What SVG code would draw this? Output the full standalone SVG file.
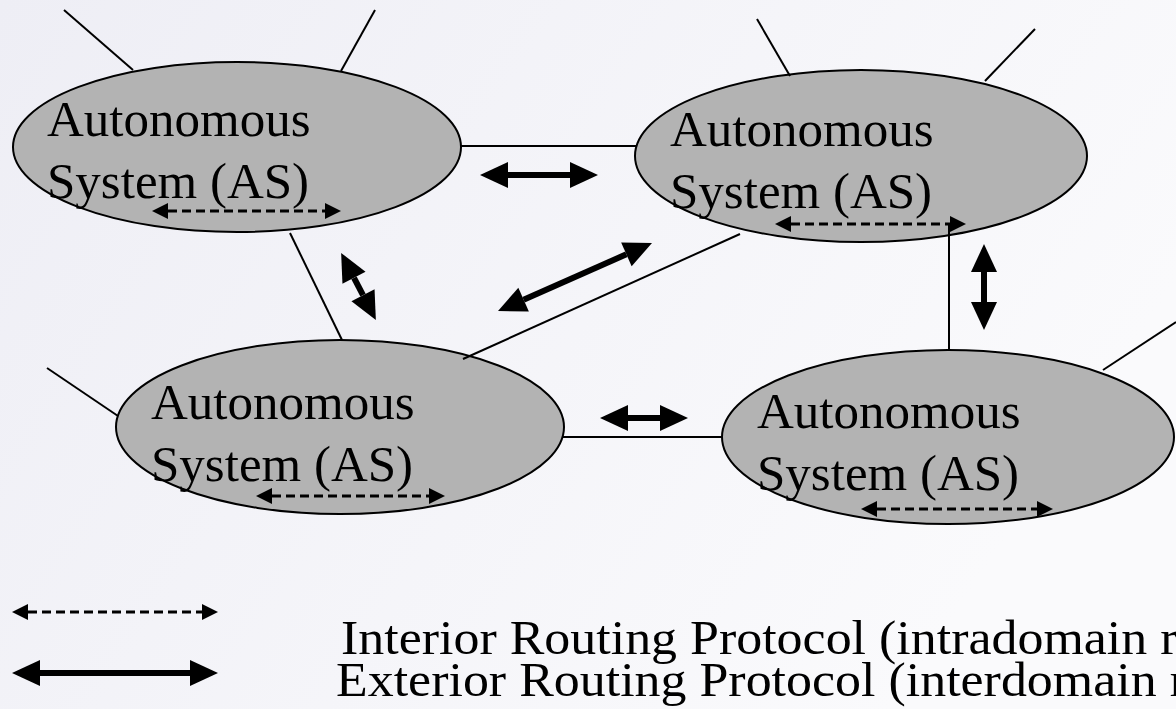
<svg xmlns="http://www.w3.org/2000/svg" width="1176" height="709" viewBox="0 0 1176 709">
  <defs>
    <linearGradient id="bg" x1="0" y1="0" x2="1" y2="0.4">
      <stop offset="0" stop-color="#eeeef5"/>
      <stop offset="1" stop-color="#fafafc"/>
    </linearGradient>
    <!-- solid head for exterior (inter-AS) arrows -->
    <marker id="headThick" markerUnits="userSpaceOnUse" markerWidth="28" markerHeight="26" viewBox="0 0 28 26" refX="0" refY="13" orient="auto-start-reverse" overflow="visible">
      <path d="M0,0 L28,13 L0,26 z" fill="#000"/>
    </marker>
    <!-- small head for interior (intra-AS) arrows -->
    <marker id="headThin" markerUnits="userSpaceOnUse" markerWidth="16" markerHeight="16" viewBox="0 0 16 16" refX="0" refY="8" orient="auto-start-reverse" overflow="visible">
      <path d="M0,0 L16,8 L0,16 z" fill="#000"/>
    </marker>
  </defs>
  <style>
    .as { fill: #b3b3b3; stroke: #000; stroke-width: 2; }
    .lbl { font-family: "Liberation Serif", "Times New Roman", serif; font-size: 51px; fill: #000; }
    .legend-text { font-family: "Liberation Serif", "Times New Roman", serif; font-size: 49px; fill: #000; }
    .link { stroke: #000; stroke-width: 2; fill: none; }
    .egp { stroke: #000; stroke-width: 6; fill: none; marker-start: url(#headThick); marker-end: url(#headThick); }
    .igp { stroke: #000; stroke-width: 3; fill: none; stroke-dasharray: 9 5; marker-start: url(#headThin); marker-end: url(#headThin); }
  </style>

  <rect x="0" y="0" width="1176" height="709" fill="url(#bg)"/>

  <!-- autonomous systems -->
  <g id="as-top-left">
    <ellipse class="as" cx="237" cy="147" rx="224" ry="85"/>
    <text class="lbl" x="47" y="136">Autonomous</text>
    <text class="lbl" x="47" y="198">System (AS)</text>
    <line class="igp" x1="168" y1="211" x2="325" y2="211"/>
  </g>
  <g id="as-top-right">
    <ellipse class="as" cx="861" cy="156" rx="226" ry="86"/>
    <text class="lbl" x="670" y="146">Autonomous</text>
    <text class="lbl" x="670" y="208">System (AS)</text>
    <line class="igp" x1="791" y1="224" x2="950" y2="224"/>
  </g>
  <g id="as-bottom-left">
    <ellipse class="as" cx="340" cy="427" rx="224" ry="87"/>
    <text class="lbl" x="151" y="419">Autonomous</text>
    <text class="lbl" x="151" y="481">System (AS)</text>
    <line class="igp" x1="272" y1="496" x2="429" y2="496"/>
  </g>
  <g id="as-bottom-right">
    <ellipse class="as" cx="948" cy="437" rx="226" ry="87"/>
    <text class="lbl" x="757" y="428">Autonomous</text>
    <text class="lbl" x="757" y="490">System (AS)</text>
    <line class="igp" x1="877" y1="509" x2="1037" y2="509"/>
  </g>

  <!-- links and exterior routing arrows -->
  <g id="connectors">
    <!-- outside links -->
    <line class="link" x1="64" y1="10" x2="133" y2="70"/>
    <line class="link" x1="375" y1="10" x2="341" y2="71"/>
    <line class="link" x1="757" y1="19" x2="790" y2="76"/>
    <line class="link" x1="1035" y1="29" x2="985" y2="81"/>
    <line class="link" x1="47" y1="368" x2="118" y2="416"/>
    <line class="link" x1="1176" y1="322" x2="1103" y2="370"/>
    <!-- inter-AS links -->
    <line class="link" x1="461" y1="146" x2="636" y2="146"/>
    <line class="link" x1="290" y1="233" x2="342" y2="340"/>
    <line class="link" x1="740" y1="234" x2="463" y2="359"/>
    <line class="link" x1="949" y1="224" x2="949" y2="350"/>
    <line class="link" x1="563" y1="437" x2="723" y2="437"/>
    <!-- exterior routing arrows -->
    <line class="egp" x1="508" y1="175" x2="570" y2="175"/>
    <line class="egp" x1="984" y1="272" x2="984" y2="302"/>
    <line class="egp" x1="628" y1="418" x2="660" y2="418"/>
    <line class="egp" x1="354" y1="277.8" x2="363" y2="295.2"/>
    <line class="egp" x1="523.6" y1="299.7" x2="626.4" y2="254.3"/>
  </g>

  <!-- legend -->
  <g id="legend">
    <line class="igp" x1="28" y1="612" x2="202" y2="612"/>
    <line class="egp" x1="40" y1="673" x2="190" y2="673"/>
    <text class="legend-text" transform="translate(341,654) scale(1.06,1)">Interior Routing Protocol (intradomain routing)</text>
    <text class="legend-text" transform="translate(336,696) scale(1.06,1)">Exterior Routing Protocol (interdomain routing)</text>
  </g>
</svg>
